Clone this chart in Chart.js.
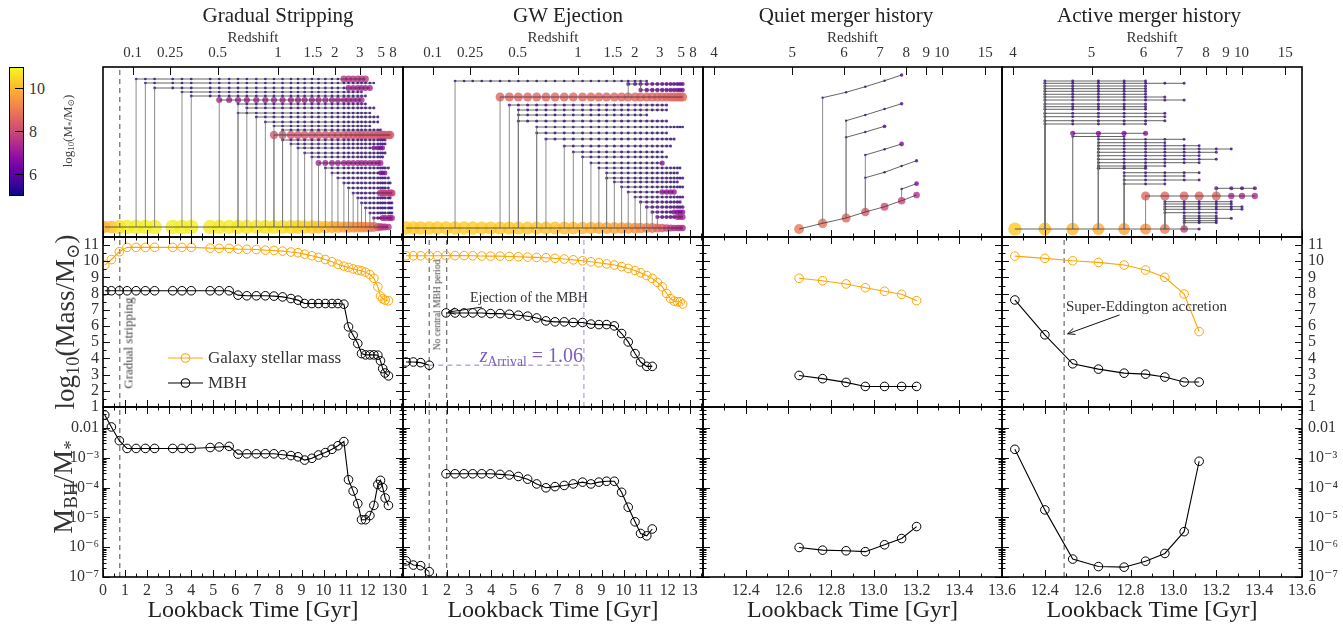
<!DOCTYPE html>
<html>
<head>
<meta charset="utf-8">
<title>MBH growth histories</title>
<script src="https://cdn.jsdelivr.net/npm/chart.js@4.4.1/dist/chart.umd.min.js"></script>
<style>
  body { margin: 0; background: #fff; }
  #fig { position: relative; width: 1343px; height: 630px; overflow: hidden;
         font-family: "Liberation Serif", "DejaVu Serif", serif; color: #222; }
  #fig canvas { position: absolute; }
  .lbl { position: absolute; white-space: nowrap; line-height: 1; }
  .lbl sub { font-size: 0.68em; vertical-align: -0.28em; line-height: 0; }
</style>
</head>
<body>
<div id="fig"></div>
<script>
// ---- Gradual Stripping: lookback time (Gyr), log masses, log MBH/M* ----
const tStrip = [0.08,0.38,0.74,1.09,1.50,1.92,2.34,3.16,3.58,4.00,4.86,5.27,5.72,6.12,6.52,6.95,7.36,7.75,8.14,8.52,8.84,9.14,9.47,9.77,10.08,10.38,10.65,10.92,11.13,11.34,11.55,11.72,11.90,12.10,12.28,12.46,12.58,12.68,12.79,12.94];
const mStarStrip = [9.76,10.11,10.59,10.86,10.86,10.86,10.86,10.86,10.86,10.86,10.81,10.80,10.80,10.75,10.74,10.73,10.69,10.67,10.63,10.57,10.53,10.44,10.34,10.24,10.11,9.97,9.82,9.70,9.62,9.53,9.46,9.41,9.33,9.18,8.95,8.42,7.85,7.68,7.60,7.56];
const mBhStrip = [8.18,8.18,8.18,8.18,8.18,8.18,8.18,8.18,8.18,8.18,8.18,8.18,8.18,7.91,7.87,7.87,7.87,7.85,7.80,7.70,7.60,7.39,7.39,7.39,7.39,7.39,7.39,7.35,5.95,5.43,4.92,4.30,4.22,4.22,4.22,4.20,3.85,3.37,3.10,2.92];
const logRatioStrip = [-1.57,-1.97,-2.43,-2.69,-2.69,-2.69,-2.69,-2.69,-2.69,-2.69,-2.66,-2.64,-2.62,-2.88,-2.87,-2.87,-2.87,-2.87,-2.90,-2.93,-2.97,-3.08,-3.02,-2.91,-2.83,-2.72,-2.60,-2.46,-3.74,-4.12,-4.54,-5.08,-5.08,-4.94,-4.60,-3.90,-3.76,-4.00,-4.35,-4.60];

// ---- GW Ejection ----
const tEject = [0.14,0.47,0.80,1.19,1.56,1.95,2.36,2.77,3.16,3.57,3.97,4.40,4.82,5.23,5.65,6.06,6.48,6.89,7.31,7.72,8.14,8.52,8.88,9.23,9.58,9.91,10.21,10.52,10.77,11.05,11.30,11.53,11.75,11.95,12.13,12.29,12.44,12.56,12.68];
const mStarEject = [10.34,10.34,10.34,10.34,10.34,10.35,10.35,10.35,10.34,10.33,10.32,10.32,10.30,10.28,10.26,10.24,10.22,10.18,10.14,10.09,10.03,9.97,9.91,9.84,9.77,9.67,9.56,9.43,9.29,9.12,8.94,8.70,8.43,8.01,7.70,7.54,7.50,7.50,7.36];
const mBhEject = [3.78,3.78,3.74,3.58,null,6.81,6.81,6.81,6.81,6.81,6.77,6.77,6.73,6.67,6.61,6.50,6.32,6.26,6.26,6.22,6.22,6.12,6.09,6.09,6.01,5.54,5.02,4.30,3.78,3.51,3.51];
const logRatioEject = [-6.46,-6.60,-6.62,-6.82,null,-3.54,-3.54,-3.54,-3.54,-3.54,-3.54,-3.56,-3.58,-3.63,-3.72,-3.88,-4.01,-3.97,-3.93,-3.88,-3.82,-3.88,-3.82,-3.79,-3.79,-4.16,-4.66,-5.15,-5.54,-5.62,-5.39];

// ---- Quiet merger history ----
const tQuiet = [12.65,12.76,12.87,12.96,13.05,13.13,13.20];
const mStarQuiet = [8.95,8.80,8.60,8.37,8.15,7.96,7.57];
const mBhQuiet = [2.95,2.75,2.52,2.27,2.27,2.27,2.27];
const logRatioQuiet = [-6.01,-6.10,-6.12,-6.15,-5.92,-5.71,-5.31];

// ---- Active merger history ----
const tActive = [12.26,12.40,12.53,12.65,12.77,12.87,12.96,13.05,13.12];
const mStarActive = [10.32,10.18,10.03,9.93,9.77,9.46,9.01,7.98,5.66];
const mBhActive = [7.61,5.46,3.67,3.34,3.09,3.03,2.85,2.54,2.54];
const logRatioActive = [-2.72,-4.75,-6.40,-6.65,-6.67,-6.47,-6.21,-5.48,-3.12];

// event markers (Gyr)
const tStripping = 0.76;
const tNoBhStart = 1.19, tNoBhEnd = 1.98;
const tArrival = 8.2, mArrival = 3.58;
const tSuperEdd = 12.49;

// redshift ticks of the top axis
const zLate = [0.1, 0.25, 0.5, 1, 1.5, 2, 3, 5, 8];
const zEarly = [4, 5, 6, 7, 8, 9, 10, 15];

// merger trees: [first snapshot, last snapshot, row height, log M*, parent row, heavier from, its log M*]
const snapStrip = tStrip.concat([13.02, 13.10]);
const treeStrip = [
  [4,32,158,5.3,null,27,7.6],[5,34,154,5.3],[6,33,149,5.4,null,28,7.2],[8,31,145,5.3],[9,32,141,5.4],
  [11,31,137,7.3],[13,32,133,5.4],[14,34,129,5.5],[13,33,124,5.3],[15,35,120,5.5],[16,35,115,5.4],
  [17,33,111,5.3],[18,36,107,5.5],[17,40,102,8.3],[18,38,97,5.5],[19,38,93,5.4],[20,37,89,5.5,null,34,6.6],
  [21,38,84,5.4],[22,37,80,5.5],[23,36,74,7.2],[24,39,69,5.5],[25,38,64,5.4,null,36,6.6],[26,39,59,5.5],
  [27,40,54,5.5],[28,39,49,5.4],[29,41,44,5.6,null,36,7.8],[30,40,39,5.5],[31,41,34,5.5],[32,41,29,5.4],
  [33,41,24,5.5],[34,41,19,5.8,null,37,7.2]
];
const treeEject = [
  [6,29,156,5.3],[11,38,140,8.6],[26,38,153,6.2,140],[28,38,147,6.4,153],[12,33,132,5.7],[13,33,127,5.5],
  [13,29,122,5.4],[13,33,116,5.7],[15,38,110,5.3],[15,33,104,5.5],[16,35,98,5.7],[18,34,91,5.6],
  [19,32,85,5.5],[20,33,80,5.5],[21,32,74,5.4,null,32,6.8],[22,37,69,5.4],[23,36,64,5.5],[23,38,59,5.6],
  [24,36,55,5.5],[25,38,50,5.5],[26,35,45,5.6,null,32,7.0],[27,38,40,5.6],[28,37,35,5.8],[29,38,30,6.0],
  [30,38,25,6.0,null,35,6.8],[31,38,20,6.2,null,36,7.2]
];
const mainQuietH = [8,13.7,19,25,30.3,36.3,42];
const treeQuiet = [
  {s: 1, h: [139.3,144.7,150.3,156.3,162], m: [5,5,5,5,5.9]},
  {s: 2, h: [116.3,122,128,133.3], m: [5,5,5,5.9]},
  {s: 2, h: [99.7,105,110.7], m: [5,5,6.0]},
  {s: 3, h: [82,87.7,93], m: [5.1,5.1,6.6]},
  {s: 3, h: [59.3,64.7,71,76.3], m: [5,5,5,5.8]},
  {s: 5, h: [48,53.3], m: [5.1,6.6]}
];
const snapActive = tActive.concat([13.20, 13.27, 13.32, 13.38]);
const treeActive = [
  [1,5,156,5.5],[1,7,153.7,5.5],[1,5,151,5.6],[1,5,148.3,5.5],[1,5,145.7,5.6],[1,5,142.7,5.5],
  [1,6,140,5.6],[1,7,137,5.6],[1,5,133,5.6],[1,5,130.3,5.5],[1,5,127.7,5.5],[1,6,123.7,5.6],
  [1,6,120.3,5.5],[1,6,116.3,5.6],[1,5,113,5.5],
  [2,5,103.7,6.8],[2,4,100.5,5.3],
  [3,7,97.7,5.4],[3,6,94.3,5.4],[3,8,91.3,5.5],[3,10,88,5.5],[3,9,84.7,5.5],[3,8,81.3,5.5],
  [3,9,77.7,5.5],[3,8,74.3,5.5],[3,6,71,5.5],[3,5,68.7,5.8],
  [4,8,64.3,5.5],[4,7,61,5.5],[4,8,57,5.5],[4,6,53,5.4],
  [5,12,41,8.6,null,10,7.4],[9,12,48.7,6.2,41],
  [6,10,35.3,5.5],[6,10,33,5.6],[6,11,30.3,5.6],[6,11,27.7,5.5],[6,9,24.3,5.5],
  [7,9,21,5.5],[7,10,18.7,5.6],[7,9,16.3,5.6],[7,9,14.3,5.5]
];

// ---------------------------------------------------------------
const fig = document.getElementById('fig');
const SERIF = '"Liberation Serif", "DejaVu Serif", serif';
Chart.defaults.font.family = SERIF;
Chart.defaults.color = '#333';

const COLX = [103, 403, 703, 1002, 1302];
const ROWY = [67, 237, 407, 577];
const PAD = {l: 50, r: 50, t: 45, b: 40, bLast: 50};

const PLASMA = ['#0d0887','#41049d','#6a00a8','#8f0da4','#b12a90','#cc4778','#e16462','#f2844b','#fca636','#fcce25','#f0f921'];
const hexRgb = h => [1, 3, 5].map(i => parseInt(h.substr(i, 2), 16));
function massColor(m, a) {
  const f = Math.min(1, Math.max(0, (m - 5) / 6)) * 10;
  const i = Math.min(9, Math.floor(f)), u = f - i;
  const c0 = hexRgb(PLASMA[i]), c1 = hexRgb(PLASMA[i + 1]);
  const c = c0.map((v, k) => Math.round(v + (c1[k] - v) * u));
  return `rgba(${c[0]},${c[1]},${c[2]},${a})`;
}
const massRadius = m => 1.2 + 6.3 * Math.pow(Math.max(0, (m - 5) / 6), 1.27);

// lookback time for a flat Planck-like cosmology, used to place the redshift ticks
function lookback(z) {
  const H0 = 67.66, Om = 0.3111, Ol = 1 - Om, tH = 977.79 / H0, n = 400, h = z / n;
  let s = 0;
  for (let i = 0; i <= n; i++) {
    const zz = i * h;
    const f = 1 / ((1 + zz) * Math.sqrt(Om * Math.pow(1 + zz, 3) + Ol));
    s += f * (i === 0 || i === n ? 1 : (i % 2 ? 4 : 2));
  }
  return tH * s * h / 3;
}

function seq(a, b, step) {
  const out = [];
  for (let v = a; v <= b + 1e-9; v += step) out.push(Math.round(v * 100) / 100);
  return out;
}
const SUP = {'-': '\u207b', '0': '\u2070', '1': '\u00b9', '2': '\u00b2', '3': '\u00b3', '4': '\u2074', '5': '\u2075', '6': '\u2076', '7': '\u2077', '8': '\u2078', '9': '\u2079'};
const logFmt = v => v > 0.005 ? '0.01' : '10' + String(Math.round(Math.log10(v))).split('').map(c => SUP[c]).join('');
const logMinor = [];
for (let d = -7; d <= -2; d++) for (let k = 2; k <= 9; k++) if (k * Math.pow(10, d) < 0.05) logMinor.push(k * Math.pow(10, d));

const LATE = {min: 0, max: 13.6, major: seq(0, 13, 1), minor: seq(0.5, 13.5, 1), fmt: v => String(Math.round(v)), z: zLate};
const EARLY = {min: 12.2, max: 13.6, major: seq(12.4, 13.6, 0.2), minor: seq(12.3, 13.5, 0.2), fmt: v => v.toFixed(1), z: zEarly};
const ROWS = [
  {type: 'linear', min: 0, max: 170, major: [], minor: [], fmt: () => ''},
  {type: 'linear', min: 1, max: 11.5, major: seq(1, 11, 1), minor: seq(1.5, 11.5, 1), fmt: v => String(Math.round(v))},
  {type: 'logarithmic', min: 1e-7, max: 0.05, major: [1e-7, 1e-6, 1e-5, 1e-4, 1e-3, 1e-2], minor: logMinor, fmt: logFmt}
];

// ---- tree -> datasets ----
function buildTree(tree) {
  const {snaps, main, branches} = tree;
  const mainH = i => Array.isArray(main.h) ? main.h[i] : main.h;
  const pts = [], lines = [], links = [];
  const addRun = (s, e, hAt, mAt) => {
    for (let i = s; i <= e; i++) {
      lines.push({x: snaps[i], y: hAt(i)});
      pts.push({x: snaps[i], y: hAt(i), m: mAt(i)});
    }
    lines.push({x: snaps[e], y: null});
  };
  addRun(0, main.m.length - 1, mainH, i => main.m[i]);
  branches.forEach(raw => {
    const b = Array.isArray(raw) ? {s: raw[0], e: raw[1], h: raw[2], m: raw[3], p: raw[4], tf: raw[5], tm: raw[6]} : raw;
    const e = Array.isArray(b.h) ? b.s + b.h.length - 1 : b.e;
    const hAt = i => Array.isArray(b.h) ? b.h[i - b.s] : b.h;
    const mAt = i => Array.isArray(b.m) ? b.m[i - b.s] : (b.tf != null && i >= b.tf ? b.tm : b.m);
    const p = b.p != null ? b.p : mainH(b.s);
    links.push({x: snaps[b.s], y: p}, {x: snaps[b.s], y: hAt(b.s)}, {x: snaps[b.s], y: null});
    addRun(b.s, e, hAt, mAt);
  });
  return {pts, lines, links};
}

function vline(x, y0, y1, color) {
  return {data: [{x, y: y0}, {x, y: y1}], showLine: true, borderColor: color, borderWidth: 1.3, borderDash: [5, 4], pointRadius: 0};
}
function hline(x0, x1, y, color) {
  return {data: [{x: x0, y}, {x: x1, y}], showLine: true, borderColor: color, borderWidth: 1.3, borderDash: [5, 4], pointRadius: 0};
}
function series(t, vals, color, tf) {
  return {
    data: vals.map((v, i) => ({x: t[i], y: v == null ? null : tf(v)})),
    showLine: true, borderColor: color, borderWidth: 1.1,
    pointRadius: 4.3, pointBorderWidth: 1, pointBorderColor: color, pointBackgroundColor: 'rgba(0,0,0,0)'
  };
}

function drawNote(chart, n) {
  const {ctx, chartArea: a} = chart;
  const sx = chart.scales.x, sy = chart.scales.y;
  if (n.kind === 'arrow') {
    const x0 = sx.getPixelForValue(n.from[0]), y0 = sy.getPixelForValue(n.from[1]);
    const x1 = sx.getPixelForValue(n.to[0]), y1 = sy.getPixelForValue(n.to[1]);
    const ang = Math.atan2(y1 - y0, x1 - x0);
    ctx.strokeStyle = '#111'; ctx.lineWidth = 1;
    ctx.beginPath(); ctx.moveTo(x0, y0); ctx.lineTo(x1, y1);
    [0.42, -0.42].forEach(d => { ctx.moveTo(x1, y1); ctx.lineTo(x1 - 8 * Math.cos(ang + d), y1 - 8 * Math.sin(ang + d)); });
    ctx.stroke();
  } else if (n.kind === 'legend') {
    ctx.font = `17px ${SERIF}`; ctx.textBaseline = 'middle'; ctx.fillStyle = '#333';
    n.items.forEach(it => {
      const x = a.left + n.dx, y = a.top + it.dy;
      ctx.strokeStyle = it.color; ctx.lineWidth = 1.1;
      ctx.beginPath(); ctx.moveTo(x, y); ctx.lineTo(x + 35, y); ctx.stroke();
      ctx.beginPath(); ctx.arc(x + 17.5, y, 4.3, 0, 2 * Math.PI); ctx.stroke();
      ctx.fillText(it.label, x + 40, y + 1);
    });
  }
}

// frame, inward ticks and annotations
const framePlugin = {
  id: 'frame',
  afterDatasetsDraw(chart, args, o) {
    const {ctx, chartArea: a} = chart;
    const sx = chart.scales.x, sy = chart.scales.y;
    ctx.save();
    ctx.strokeStyle = '#111'; ctx.lineWidth = 1;
    ctx.beginPath();
    const xt = (v, len, both) => {
      const p = Math.round(sx.getPixelForValue(v)) + 0.5;
      if (p < a.left - 0.5 || p > a.right + 0.5) return;
      ctx.moveTo(p, a.bottom); ctx.lineTo(p, a.bottom - len);
      if (both) { ctx.moveTo(p, a.top); ctx.lineTo(p, a.top + len); }
    };
    o.x.major.forEach(v => xt(v, 7, !o.top));
    o.x.minor.forEach(v => xt(v, 3.5, !o.top));
    if (o.top) o.x.z.forEach(z => {
      const p = Math.round(sx.getPixelForValue(lookback(z))) + 0.5;
      ctx.moveTo(p, a.top); ctx.lineTo(p, a.top + 8);
    });
    const yt = (v, len) => {
      const p = Math.round(sy.getPixelForValue(v)) + 0.5;
      if (p < a.top - 0.5 || p > a.bottom + 0.5) return;
      ctx.moveTo(a.left, p); ctx.lineTo(a.left + len, p);
      ctx.moveTo(a.right, p); ctx.lineTo(a.right - len, p);
    };
    o.y.major.forEach(v => yt(v, 7));
    o.y.minor.forEach(v => yt(v, 3.5));
    ctx.stroke();
    (o.notes || []).forEach(n => drawNote(chart, n));
    ctx.lineWidth = 1.6; ctx.strokeStyle = '#000';
    ctx.strokeRect(a.left, a.top, a.right - a.left, a.bottom - a.top);
    ctx.restore();
  }
};

function makePanel(col, row, ax, datasets, notes) {
  const padB = row === 2 ? PAD.bLast : PAD.b;
  const cv = document.createElement('canvas');
  cv.width = COLX[col + 1] - COLX[col] + PAD.l + PAD.r;
  cv.height = ROWY[row + 1] - ROWY[row] + PAD.t + padB;
  cv.style.left = (COLX[col] - PAD.l) + 'px';
  cv.style.top = (ROWY[row] - PAD.t) + 'px';
  fig.appendChild(cv);
  const ry = ROWS[row];
  const tickFont = {family: SERIF, size: 16};
  const yAxis = (pos, show) => ({
    type: ry.type, position: pos, min: ry.min, max: ry.max,
    grid: {display: false, drawTicks: false}, border: {display: false},
    ticks: {display: show, autoSkip: false, padding: pos === 'left' ? 4 : 6, font: tickFont, color: '#333', callback: v => ry.fmt(v)},
    afterBuildTicks: s => { s.ticks = ry.major.map(v => ({value: v})); },
    afterFit: s => { s.width = pos === 'left' ? PAD.l : PAD.r; }
  });
  new Chart(cv, {
    type: 'scatter',
    data: {datasets},
    options: {
      responsive: false, animation: false, events: [],
      layout: {padding: 0},
      plugins: {legend: {display: false}, tooltip: {enabled: false},
        frame: {x: ax, y: ry, top: row === 0, notes: notes || []}},
      scales: {
        x: {
          type: 'linear', position: 'bottom', min: ax.min, max: ax.max,
          grid: {display: false, drawTicks: false}, border: {display: false},
          ticks: {display: row === 2, autoSkip: false, maxRotation: 0, padding: 4, font: tickFont, color: '#333', callback: v => ax.fmt(v)},
          afterBuildTicks: s => { s.ticks = ax.major.map(v => ({value: v})); },
          afterFit: s => { s.height = padB; },
          title: {display: row === 2, text: 'Lookback Time [Gyr]', font: {family: SERIF, size: 24}, color: '#222', padding: {top: 0, bottom: 2}}
        },
        x2: {
          type: 'linear', position: 'top', min: ax.min, max: ax.max,
          grid: {display: false, drawTicks: false}, border: {display: false},
          ticks: {display: row === 0, autoSkip: false, maxRotation: 0, padding: 5, font: {family: SERIF, size: 15}, color: '#333', callback: (v, i) => String(ax.z[i])},
          afterBuildTicks: s => { s.ticks = ax.z.map(z => ({value: lookback(z)})); },
          afterFit: s => { s.height = PAD.t; },
          title: {display: row === 0, text: 'Redshift', font: {family: SERIF, size: 15}, color: '#333', padding: {top: 7, bottom: 0}}
        },
        y: yAxis('left', row > 0 && col === 0),
        y2: yAxis('right', row > 0 && col === 3)
      }
    },
    plugins: [framePlugin]
  });
}

const GRAY = '#777', ORANGE = '#ffa500', LAV = '#b9a6e2';
const COLS = [
  {ax: LATE, t: tStrip, mStar: mStarStrip, mBh: mBhStrip, ratio: logRatioStrip,
   tree: {snaps: snapStrip, main: {h: 10, m: mStarStrip}, branches: treeStrip},
   treeMarks: [tStripping], marks: [tStripping], extra: [],
   notes: [{kind: 'legend', dx: 65, items: [{color: ORANGE, label: 'Galaxy stellar mass', dy: 121}, {color: '#000', label: 'MBH', dy: 146}]}]},
  {ax: LATE, t: tEject, mStar: mStarEject, mBh: mBhEject, ratio: logRatioEject,
   tree: {snaps: tEject, main: {h: 9, m: mStarEject}, branches: treeEject},
   treeMarks: [], marks: [tNoBhStart, tNoBhEnd],
   extra: [vline(tArrival, 1, 11.5, LAV), hline(tNoBhStart, tArrival, mArrival, LAV)],
   notes: [{kind: 'arrow', from: [3.58, 7.17], to: [2.04, 6.86]}]},
  {ax: EARLY, t: tQuiet, mStar: mStarQuiet, mBh: mBhQuiet, ratio: logRatioQuiet,
   tree: {snaps: tQuiet, main: {h: mainQuietH, m: mStarQuiet}, branches: treeQuiet},
   treeMarks: [], marks: [], extra: [], notes: []},
  {ax: EARLY, t: tActive, mStar: mStarActive, mBh: mBhActive, ratio: logRatioActive,
   tree: {snaps: snapActive, main: {h: 8, m: mStarActive}, branches: treeActive},
   treeMarks: [], marks: [tSuperEdd], extra: [],
   notes: [{kind: 'arrow', from: [12.749, 6.69], to: [12.506, 5.52]}]}
];

COLS.forEach((c, col) => {
  const tr = buildTree(c.tree);
  makePanel(col, 0, c.ax, [
    ...c.treeMarks.map(t => vline(t, 0, 170, GRAY)),
    {data: tr.lines, showLine: true, borderColor: 'rgba(40,40,40,0.8)', borderWidth: 0.9, pointRadius: 0},
    {data: tr.links, showLine: true, borderColor: 'rgba(120,120,120,0.85)', borderWidth: 1, pointRadius: 0},
    {data: tr.pts, pointRadius: tr.pts.map(p => massRadius(p.m)), pointBackgroundColor: tr.pts.map(p => massColor(p.m, 0.8)),
     pointBorderWidth: 0, pointBorderColor: 'rgba(0,0,0,0)'}
  ]);
  makePanel(col, 1, c.ax, [
    series(c.t, c.mStar, ORANGE, v => v),
    series(c.t, c.mBh, '#000', v => v),
    ...c.marks.map(t => vline(t, 1, 11.5, GRAY)),
    ...c.extra
  ], c.notes);
  makePanel(col, 2, c.ax, [
    series(c.t, c.ratio, '#000', v => Math.pow(10, v)),
    ...c.marks.map(t => vline(t, 1e-7, 0.05, GRAY))
  ]);
});

// ---- text: titles, axis labels, annotations, colour bar ----
function label(html, x, y, css, tf) {
  const d = document.createElement('div');
  d.className = 'lbl';
  d.innerHTML = html;
  d.style.left = x + 'px';
  d.style.top = y + 'px';
  d.style.transform = tf || 'translate(-50%, -50%)';
  Object.assign(d.style, css || {});
  fig.appendChild(d);
  return d;
}
const ROT = 'translate(-50%, -50%) rotate(-90deg)';
[['Gradual Stripping', 278], ['GW Ejection', 568], ['Quiet merger history', 846], ['Active merger history', 1149]]
  .forEach(([t, x]) => label(t, x, 15, {fontSize: '21px', color: '#222'}));

label('log<sub>10</sub>(Mass/M<sub>\u2299</sub>)', 65, 322, {fontSize: '27px', color: '#333'}, ROT);
label('M<sub>BH</sub>/M<sub>*</sub>', 63, 487, {fontSize: '28px', color: '#333'}, ROT);

label('Gradual stripping', 127.5, 343, {fontSize: '13px', color: '#444'}, ROT);
label('No central MBH period', 437.5, 305, {fontSize: '9.5px', color: '#444'}, ROT);
label('Ejection of the MBH', 470, 298, {fontSize: '14px', color: '#333'}, 'translateY(-50%)');
label('<i>z</i><sub>Arrival</sub> = 1.06', 583, 355, {fontSize: '20px', color: '#7e5cc0'}, 'translate(-100%, -50%)');
label('Super-Eddington accretion', 1066, 306, {fontSize: '15px', color: '#333'}, 'translateY(-50%)');

// colour bar of the tree panels
const bar = document.createElement('div');
Object.assign(bar.style, {position: 'absolute', left: '9px', top: '67px', width: '13px', height: '127px',
  border: '1.3px solid #000', background: `linear-gradient(to top, ${PLASMA.join(',')})`});
fig.appendChild(bar);
[10, 8, 6].forEach(v => {
  const y = 67 + (11 - v) / 6 * 129;
  const tk = document.createElement('div');
  Object.assign(tk.style, {position: 'absolute', left: '15px', top: (y - 0.5) + 'px', width: '8px', height: '1.2px', background: '#000'});
  fig.appendChild(tk);
  label(String(v), 29, y, {fontSize: '16px', color: '#333'}, 'translateY(-50%)');
});
label('log<sub>10</sub>(M<sub>*</sub>/M<sub>\u2299</sub>)', 67, 131, {fontSize: '13px', color: '#444'}, ROT);
</script>
</body>
</html>
